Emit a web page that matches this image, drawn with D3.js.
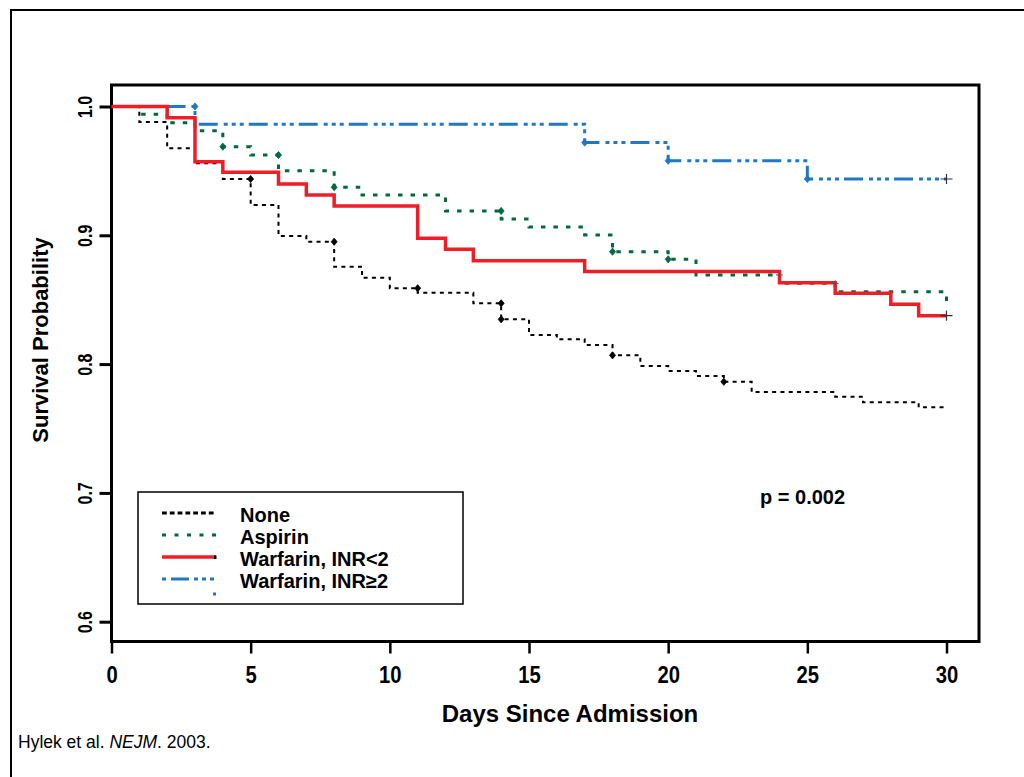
<!DOCTYPE html>
<html><head><meta charset="utf-8">
<script src="https://cdn.jsdelivr.net/npm/d3@7"></script>
<style>
body{margin:0;background:#fff}
svg{display:block}
text{font-family:"Liberation Sans",Arial,Helvetica,sans-serif;fill:#000}
</style>
</head><body>
<svg id="chart" width="1024" height="777"></svg>
<script>
// ---------------- data ----------------
const xTicks = [0, 5, 10, 15, 20, 25, 30];
const yTicks = [0.6, 0.7, 0.8, 0.9, 1.0];
const seriesNames = ["None", "Aspirin", "Warfarin, INR<2", "Warfarin, INR\u22652"];

const noneTimes = [0, 1, 2, 3, 4, 5, 6, 7, 8, 9, 10, 11, 13, 14, 15, 16, 17, 18, 19, 20, 21, 22, 23, 26, 27, 29, 30];
const noneSurv  = [1.0, 0.988, 0.9675, 0.956, 0.9437, 0.9235, 0.8995, 0.895, 0.8756, 0.8671, 0.8589, 0.8554, 0.8472, 0.8348, 0.8226, 0.8193, 0.8148, 0.8068, 0.7985, 0.7946, 0.7908, 0.7863, 0.7783, 0.7747, 0.7703, 0.7665, 0.7665];
const noneCensorTimes = [5, 8, 11, 14, 14, 18, 22];
const noneCensorSurv  = [0.9437, 0.895, 0.8589, 0.8472, 0.8348, 0.8068, 0.7863];

const aspirinTimes = [0, 1, 2, 3, 4, 5, 6, 8, 9, 12, 14, 15, 17, 18, 20, 21, 24, 26, 30];
const aspirinSurv  = [1.0, 0.9939, 0.9874, 0.9812, 0.9688, 0.9623, 0.9502, 0.9373, 0.9313, 0.9189, 0.9127, 0.9064, 0.9002, 0.8873, 0.8814, 0.8692, 0.8627, 0.8562, 0.849];
const aspirinCensorTimes = [4, 6, 8, 14, 18, 20];
const aspirinCensorSurv  = [0.9688, 0.9623, 0.9373, 0.9189, 0.8873, 0.8814];
const aspirinSmallCensorTimes = [24, 26];
const aspirinSmallCensorSurv  = [0.8692, 0.8627];

const warfLowTimes = [0, 2, 3, 4, 6, 7, 8, 11, 12, 13, 17, 24, 26, 28, 29, 30];
const warfLowSurv  = [1.0, 0.9913, 0.9571, 0.9489, 0.9398, 0.9313, 0.9227, 0.8977, 0.8891, 0.8803, 0.8719, 0.8632, 0.855, 0.8464, 0.8376, 0.8376];
const warfLowEndTimes = [30];
const warfLowEndSurv  = [0.8376];

const warfHighTimes = [0, 3, 17, 20, 25, 30];
const warfHighSurv  = [1.0, 0.9862, 0.972, 0.9579, 0.9437, 0.9437];
const warfHighCensorTimes = [3, 17, 20, 25];
const warfHighCensorSurv  = [1.0, 0.972, 0.9579, 0.9437];
const warfHighEndTimes = [30];
const warfHighEndSurv  = [0.9437];

const pText = "p = 0.002";
const xTitle = "Days Since Admission";
const yTitle = "Survival Probability";

// ---------------- drawing ----------------
const svg = d3.select("#chart");
const BLACK = "#000", GREEN = "#006a3b", RED = "#ee1d26", BLUE = "#1f77c6";

// outer frame
svg.append("rect").attr("x", 11).attr("y", 10).attr("width", 1040).attr("height", 800)
  .attr("fill", "none").attr("stroke", "#000").attr("stroke-width", 2);

const x = d3.scaleLinear().domain([0, 30]).range([111.5, 946.5]);
const y = d3.scaleLinear().domain([0.6, 1.0]).range([621.7, 106.5]);

// axes
const gx = svg.append("g").attr("transform", "translate(0,641.5)")
  .call(d3.axisBottom(x).tickValues(xTicks).tickSize(12).tickSizeOuter(0));
gx.select(".domain").remove();
gx.selectAll(".tick line").attr("stroke", "#000").attr("stroke-width", 2.5);
gx.selectAll(".tick text")
  .attr("y", null).attr("dy", null)
  .attr("transform", "translate(0,41.5) scale(0.88,1)")
  .attr("text-anchor", "middle")
  .attr("font-size", 23).attr("font-weight", "bold")
  .attr("font-family", "'Liberation Sans',Arial,sans-serif").attr("fill", "#000");

const gy = svg.append("g").attr("transform", "translate(111.5,0)")
  .call(d3.axisLeft(y).tickValues(yTicks).tickSize(12).tickSizeOuter(0).tickFormat(d3.format(".1f")));
gy.select(".domain").remove();
gy.selectAll(".tick line").attr("stroke", "#000").attr("stroke-width", 3);
gy.selectAll(".tick text")
  .attr("x", null).attr("dy", "0.36em")
  .attr("transform", "translate(-27,0) rotate(-90) scale(0.82,1)")
  .attr("text-anchor", "middle")
  .attr("font-size", 19.5).attr("font-weight", "bold")
  .attr("font-family", "'Liberation Sans',Arial,sans-serif").attr("fill", "#000");

// plot box
svg.append("rect").attr("x", 111.5).attr("y", 85).attr("width", 867.5).attr("height", 556.5)
  .attr("fill", "none").attr("stroke", "#000").attr("stroke-width", 3);

// titles
svg.append("text").attr("x", 570).attr("y", 722).attr("text-anchor", "middle")
  .attr("font-size", 24).attr("font-weight", "bold").text(xTitle);
svg.append("text").attr("transform", "translate(48,340) rotate(-90)").attr("text-anchor", "middle")
  .attr("font-size", 22).attr("font-weight", "bold").text(yTitle);

// citation
const cit = svg.append("text").attr("x", 18).attr("y", 748).attr("font-size", 17.5);
cit.append("tspan").text("Hylek et al. ");
cit.append("tspan").attr("font-style", "italic").text("NEJM");
cit.append("tspan").text(". 2003.");

// p value
svg.append("text").attr("x", 760).attr("y", 504).attr("font-size", 20).attr("font-weight", "bold").text(pText);

// curves
const line = d3.line().x(d => x(d[0])).y(d => y(d[1])).curve(d3.curveStepAfter);
const zip = (a, b) => a.map((v, i) => [v, b[i]]);
const diamond = "M0,-3.6L3,0L0,3.6L-3,0Z";

function drawCurve(times, surv, color, width, dash, offset) {
  svg.append("path").datum(zip(times, surv)).attr("d", line)
    .attr("fill", "none").attr("stroke", color).attr("stroke-width", width)
    .attr("stroke-dasharray", dash).attr("stroke-dashoffset", offset || 0);
}
function drawCensor(times, surv, color, shape) {
  svg.append("g").selectAll("path").data(zip(times, surv)).join("path")
    .attr("transform", d => `translate(${x(d[0])},${y(d[1])})`)
    .attr("d", shape).attr("fill", color).attr("stroke", color).attr("stroke-width", 0.8);
}
function drawPlus(times, surv, size, color, w) {
  svg.append("g").selectAll("path").data(zip(times, surv)).join("path")
    .attr("transform", d => `translate(${x(d[0])},${y(d[1])})`)
    .attr("d", `M${-size},0H${size}M0,${-size * 0.85}V${size * 0.85}`)
    .attr("fill", "none").attr("stroke", color).attr("stroke-width", w);
}

drawCurve(noneTimes, noneSurv, BLACK, 2, "4,4.3");
drawCurve(aspirinTimes, aspirinSurv, GREEN, 3, "4.5,8");
drawCurve(warfHighTimes, warfHighSurv, BLUE, 3, "19,6,4,4,4,4,4,5", -5);
drawCurve(warfLowTimes, warfLowSurv, RED, 3.5, null);

drawCensor(noneCensorTimes, noneCensorSurv, BLACK, diamond);
drawCensor(aspirinCensorTimes, aspirinCensorSurv, GREEN, diamond);
drawCensor(warfHighCensorTimes, warfHighCensorSurv, BLUE, diamond);
drawPlus(aspirinSmallCensorTimes, aspirinSmallCensorSurv, 3.5, "#555", 1);
drawPlus(warfLowEndTimes, warfLowEndSurv, 6, "#333", 1.2);
drawPlus(warfHighEndTimes, warfHighEndSurv, 6, "#333", 1.2);

// legend
svg.append("rect").attr("x", 138).attr("y", 492).attr("width", 325).attr("height", 112)
  .attr("fill", "#fff").attr("stroke", "#000").attr("stroke-width", 1.5);
const legStyles = [
  {color: BLACK, width: 3, dash: "4.8,3", offset: 0},
  {color: GREEN, width: 3, dash: "4,8.5", offset: 0},
  {color: RED, width: 3.5, dash: null, offset: 0},
  {color: BLUE, width: 3, dash: "18,5,4,4,4,4,4,5", offset: 39}
];
const legY = [513, 535, 557, 579];
seriesNames.forEach((name, i) => {
  const s = legStyles[i];
  svg.append("line").attr("x1", 162).attr("x2", 216).attr("y1", legY[i]).attr("y2", legY[i])
    .attr("stroke", s.color).attr("stroke-width", s.width)
    .attr("stroke-dasharray", s.dash).attr("stroke-dashoffset", s.offset);
  svg.append("text").attr("x", 240).attr("y", legY[i] + 9).attr("font-size", 20)
    .attr("font-weight", "bold").text(name);
});
svg.append("rect").attr("x", 214).attr("y", 555.5).attr("width", 2.5).attr("height", 3.5).attr("fill", "#000");
svg.append("rect").attr("x", 213).attr("y", 592.5).attr("width", 3).attr("height", 3).attr("fill", BLUE);
</script>
</body></html>
